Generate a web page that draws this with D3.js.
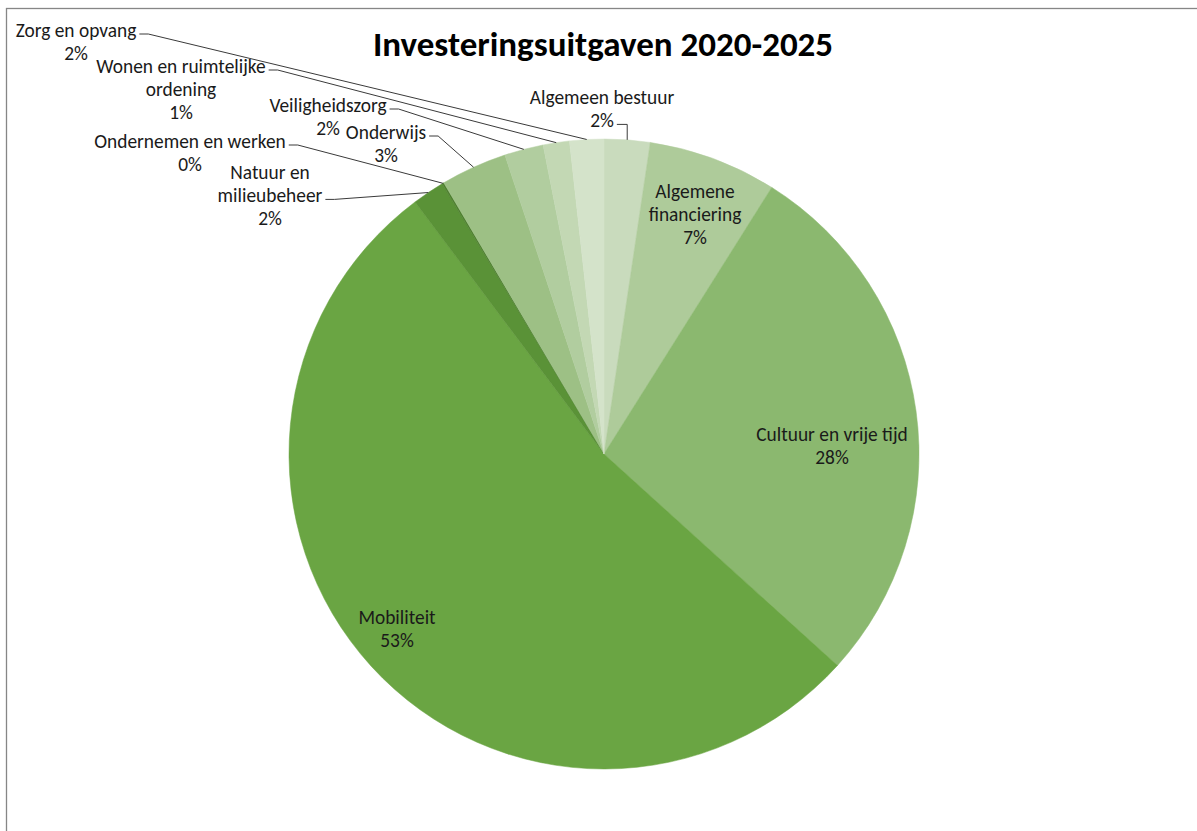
<!DOCTYPE html>
<html>
<head>
<meta charset="utf-8">
<script src="https://cdn.jsdelivr.net/npm/d3@7"></script>
<style>
  body { margin: 0; background: #fff; }
  svg { display: block; }
  text { font-family: Carlito, Lato, "Noto Sans", sans-serif; }
</style>
</head>
<body>
<svg id="chart" width="1197" height="831"></svg>
<script>
// Investment spending 2020-2025 by policy domain (share of total, %)
const categories = [
  "Algemeen bestuur",
  "Algemene financiering",
  "Cultuur en vrije tijd",
  "Mobiliteit",
  "Natuur en milieubeheer",
  "Ondernemen en werken",
  "Onderwijs",
  "Veiligheidszorg",
  "Wonen en ruimtelijke ordening",
  "Zorg en opvang"
];
const shares = [2.35, 6.6, 27.8, 53.1, 1.65, 0.1, 3.4, 2.0, 1.35, 1.75];
const title = "Investeringsuitgaven 2020-2025";

// Monochrome green palette, one shade per slice
const palette = [
  "#c9dbbd", "#aecb9a", "#8bb86f", "#6aa543", "#5a9237",
  "#4f8030", "#9dc085", "#b1cd9f", "#c3d8b4", "#d4e3ca"
];

// Label placement: text lines, centre x, centre y of first line,
// and which line the leader line starts from (null = label inside the slice)
const labelLayout = {
  "Algemeen bestuur":              { lines: ["Algemeen bestuur"], cx: 602, cy: 97, leader: 1, kind: "vertical" },
  "Algemene financiering":         { lines: ["Algemene", "financiering"], cx: 695, cy: 191, leader: null },
  "Cultuur en vrije tijd":         { lines: ["Cultuur en vrije tijd"], cx: 832, cy: 434, leader: null },
  "Mobiliteit":                    { lines: ["Mobiliteit"], cx: 397, cy: 617, leader: null },
  "Natuur en milieubeheer":        { lines: ["Natuur en", "milieubeheer"], cx: 270, cy: 172, leader: 1, kind: "elbow" },
  "Ondernemen en werken":          { lines: ["Ondernemen en werken"], cx: 190, cy: 141, leader: 0, kind: "elbow" },
  "Onderwijs":                     { lines: ["Onderwijs"], cx: 386, cy: 132, leader: 0, kind: "elbow" },
  "Veiligheidszorg":               { lines: ["Veiligheidszorg"], cx: 328, cy: 105, leader: 0, kind: "elbow" },
  "Wonen en ruimtelijke ordening": { lines: ["Wonen en ruimtelijke", "ordening"], cx: 181, cy: 66, leader: 0, kind: "elbow" },
  "Zorg en opvang":                { lines: ["Zorg en opvang"], cx: 76, cy: 30, leader: 0, kind: "elbow" }
};

const width = 1197, height = 831;
const cx = 604, cy = 454, radius = 315;
const lineH = 23.4;
const labelSize = 19.4;

const svg = d3.select("#chart");

// chart area frame
svg.append("rect")
  .attr("x", 6.5).attr("y", 8.5)
  .attr("width", width + 20).attr("height", height + 20)
  .attr("fill", "#fff")
  .attr("stroke", "#868686")
  .attr("stroke-width", 1.3);

svg.append("text")
  .attr("x", 603).attr("y", 56)
  .attr("text-anchor", "middle")
  .attr("font-size", 35)
  .attr("font-weight", "bold")
  .attr("fill", "#000")
  .text(title);

const data = categories.map((name, i) => ({ name, value: shares[i], color: palette[i] }));
const total = d3.sum(shares);
const pct = d3.format(".0%");

const pie = d3.pie().sort(null).value(d => d.value).startAngle(0).endAngle(2 * Math.PI);
const arcs = pie(data);
const arc = d3.arc().innerRadius(0).outerRadius(radius);

const g = svg.append("g").attr("transform", `translate(${cx},${cy})`);

g.selectAll("path.slice")
  .data(arcs)
  .join("path")
  .attr("class", "slice")
  .attr("d", arc)
  .attr("fill", d => d.data.color)
  .attr("stroke", d => d.data.color)
  .attr("stroke-width", 0.5);

const labels = svg.append("g").attr("class", "labels");
const leaders = svg.append("g").attr("class", "leaders");

arcs.forEach(a => {
  const lay = labelLayout[a.data.name];
  const lines = lay.lines.concat([pct(a.data.value / total)]);
  const t = labels.append("text")
    .attr("text-anchor", "middle")
    .attr("font-size", labelSize)
    .attr("fill", "#1a1a1a");
  const tspans = lines.map((s, i) =>
    t.append("tspan")
      .attr("x", lay.cx)
      .attr("y", lay.cy + 6.5 + i * lineH)
      .text(s)
  );
  if (lay.leader === null) return;

  const mid = (a.startAngle + a.endAngle) / 2;
  const px = cx + radius * Math.sin(mid);
  const py = cy - radius * Math.cos(mid);
  const node = tspans[lay.leader].node();
  const w = node.getComputedTextLength();
  const sx = lay.cx + w / 2 + 3;
  const sy = lay.cy + 4 + lay.leader * lineH;
  let pts;
  if (lay.kind === "vertical") {
    pts = [[sx, sy], [px, sy], [px, py]];
  } else {
    pts = [[sx, sy], [sx + 9, sy], [px, py]];
  }
  leaders.append("path")
    .attr("d", d3.line()(pts))
    .attr("fill", "none")
    .attr("stroke", "#3a3a3a")
    .attr("stroke-width", 1);
});
</script>
</body>
</html>
